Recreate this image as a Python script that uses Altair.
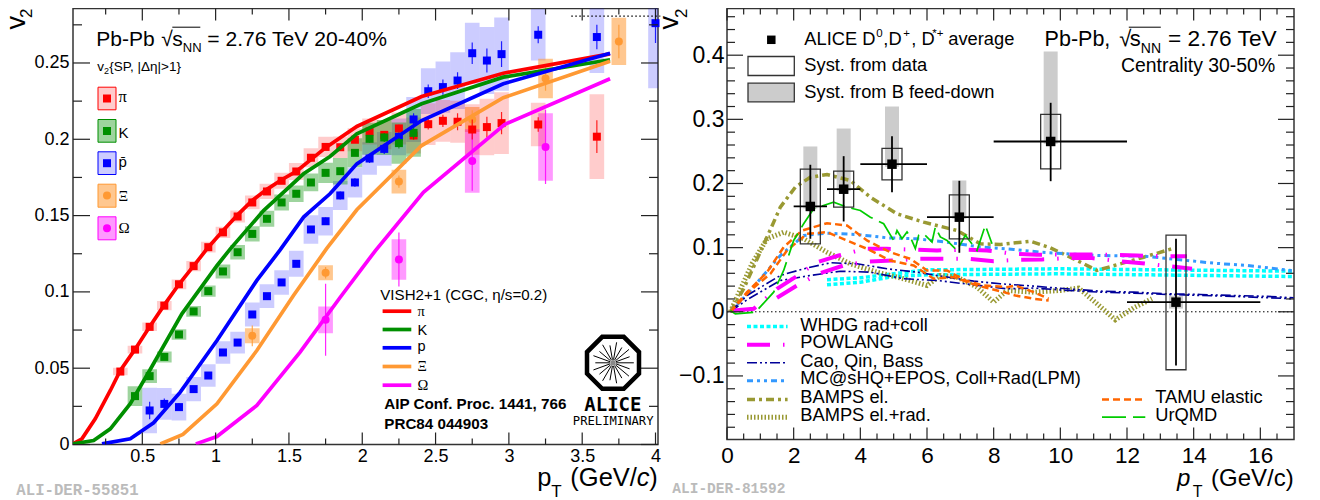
import math
import altair as alt
import pandas as pd

SANS = "Liberation Sans"
SERIF = "Liberation Serif"
MONO = "Liberation Mono"

# ---------------- left panel data: identified hadron v2 ----------------
pi_x = [0.35,0.45,0.55,0.65,0.75,0.85,0.95,1.05,1.15,1.25,1.35,1.45,1.55,1.65,1.75,1.85,1.95,2.05,2.15,2.25,2.35,2.45,2.55,2.65,2.75,2.85,2.95,3.2,3.6]
pi_y = [.0478,.0622,.0771,.091,.105,.1169,.1293,.139,.1494,.1586,.1658,.1728,.1789,.1879,.195,.1948,.1997,.2051,.2029,.2071,.2025,.2099,.2121,.2115,.2064,.208,.2106,.2097,.2017]
pi_sys = [.0025,.0025,.0028,.003,.0032,.0034,.0035,.0037,.004,.0045,.005,.0052,.0055,.0062,.0066,.007,.0075,.0085,.0095,.0105,.0118,.0137,.0137,.0137,.0165,.0185,.0202,.0142,.0278]
pi_err = [.0006,.0006,.0006,.0006,.0006,.0006,.0007,.0007,.0007,.0008,.0008,.0009,.001,.001,.0012,.0014,.0016,.0018,.002,.0025,.003,.0035,.004,.0055,.0065,.0068,.0073,.0048,.0107]

k_x = [0.45,0.55,0.65,0.75,0.85,0.95,1.05,1.15,1.25,1.35,1.45,1.55,1.65,1.75,1.85,1.95,2.05,2.15,2.25,2.35]
k_y = [.0317,.0448,.0574,.0721,.0872,.1005,.1134,.126,.138,.1479,.1586,.1643,.1717,.178,.1791,.1911,.2003,.2012,.1975,.2042]
k_sys = [.0065,.0045,.0036,.0035,.0035,.0037,.0046,.0048,.005,.0052,.0052,.0054,.0058,.0066,.0087,.0095,.0105,.0115,.0135,.0156]
k_err = [.0006,.0006,.0006,.0006,.0006,.0007,.0007,.0008,.0008,.0009,.001,.001,.0012,.0014,.0016,.002,.0025,.003,.0035,.004]

p_x = [0.55,0.65,0.75,0.85,0.95,1.05,1.15,1.25,1.35,1.45,1.55,1.65,1.75,1.85,1.95,2.05,2.15,2.25,2.35,2.45,2.55,2.65,2.75,2.85,2.95,3.2,3.6,4.0]
p_y = [.0223,.0266,.0245,.0363,.0452,.0603,.0668,.0852,.0972,.1062,.1184,.1409,.1463,.1632,.1717,.1874,.1937,.2016,.213,.2315,.2342,.2385,.2564,.2516,.2558,.2685,.267,.2761]
p_sys = [.0149,.0104,.0087,.0079,.0074,.0074,.0071,.0078,.0078,.008,.0085,.0093,.0093,.0095,.0098,.0106,.011,.012,.0147,.015,.0168,.0186,.02,.022,.024,.0168,.0236,.0426]
p_err = [.0057,.0035,.0025,.002,.002,.0015,.0015,.0015,.0015,.0018,.002,.0022,.0024,.0026,.0028,.003,.0033,.0036,.004,.0044,.005,.0055,.0071,.0079,.0085,.0055,.008,.013]

xi_x = [1.25,1.75,2.25,2.75,3.25,3.75]
xi_y = [.0712,.1125,.1723,.213,.2398,.2641]
xi_sys = [.0049,.0049,.0078,.0082,.0129,.0155]
xi_err = [.0068,.0038,.004,.006,.008,.011]

om_x = [1.75,2.25,2.75,3.25]
om_y = [.0817,.1212,.1857,.195]
om_sys = [.0088,.0133,.0208,.0221]
om_err = [.0236,.0177,.0195,.0243]

# hydrodynamic curves
vish_pi_x = [.027,.088,.179,.282,.35,.45,.55,.65,.75,.85,.95,1.05,1.15,1.25,1.35,1.45,1.55,1.75,1.963,2.405,2.962,3.69]
vish_pi_y = [.0004,.0037,.0168,.0354,.0485,.0623,.0771,.0915,.105,.117,.1293,.14,.1505,.1599,.1672,.1735,.1789,.1945,.2084,.228,.2433,.256]
vish_k_x = [.027,.168,.282,.418,.55,.77,1.01,1.10,1.327,1.6,1.78,1.963,2.405,2.962,3.69]
vish_k_y = [.0004,.0026,.0103,.0267,.0485,.0856,.1173,.1282,.1533,.1774,.1887,.2036,.2233,.2407,.2521]
vish_p_x = [.225,.418,.577,.759,1.009,1.281,1.44,1.60,1.78,1.963,2.405,2.962,3.69]
vish_p_y = [.0004,.0037,.0142,.0343,.0681,.1075,.1275,.149,.1643,.1839,.2123,.2364,.2564]
vish_xi_x = [.623,.777,1.009,1.281,1.531,1.758,1.963,2.405,2.962,3.69]
vish_xi_y = [.0004,.0066,.0267,.0616,.0976,.1285,.1538,.1959,.2272,.2512]
vish_om_x = [.865,1.009,1.281,1.576,1.85,2.09,2.417,2.97,3.69]
vish_om_y = [.0004,.0052,.0256,.0605,.0965,.1271,.1653,.2097,.2397]

left_species = [
    ("p", "#0000ff", "square", p_x, p_y, p_sys, p_err, 0.2),
    ("xi", "#ff9933", "circle", xi_x, xi_y, xi_sys, xi_err, 0.55),
    ("om", "#ff00ff", "circle", om_x, om_y, om_sys, om_err, 0.4),
    ("pi", "#ff0000", "square", pi_x, pi_y, pi_sys, pi_err, 0.2),
    ("k", "#008f00", "square", k_x, k_y, k_sys, k_err, 0.38),
]
left_curves = [
    ("#ff0000", vish_pi_x, vish_pi_y),
    ("#008f00", vish_k_x, vish_k_y),
    ("#0000ff", vish_p_x, vish_p_y),
    ("#ff9933", vish_xi_x, vish_xi_y),
    ("#ff00ff", vish_om_x, vish_om_y),
]

# ---------------- right panel data: D mesons ----------------
d_x = [2.5,3.5,4.95,6.97,9.71,13.47]
d_y = [.1642,.1911,.2301,.1475,.2655,.015]
d_xlo = [2,3,4,6,8,12]
d_xhi = [3,4,6,8,12,16]
d_stat_lo = [.1138,.1408,.1865,.092,.2036,-.0837]
d_stat_hi = [.2292,.2426,.2737,.2042,.3258,.1138]
d_sys_lo = [.106,.1631,.2057,.1138,.2229,-.0904]
d_sys_hi = [.2223,.2192,.2546,.1824,.3076,.1194]
d_b_lo = [.161,.188,.226,.145,.262,.005]
d_b_hi = [.2577,.2857,.32,.2047,.4058,.025]

whdg_hi_x = [3,4,5,6,10,17]
whdg_hi_y = [.05,.053,.0592,.0654,.067,.0633]
whdg_lo_x = [3,4,5,6,10,17]
whdg_lo_y = [.042,.0461,.055,.0577,.0592,.055]
pow_hi_x = [.2,.8,1.5,2.05,2.7,3.35,4.15,4.8,5.65,6.3,7.15,7.8,8.6,9.3,10.1,10.8,11.6,12.3,13.1,13.8]
pow_hi_y = [.002,.0046,.0358,.054,.0773,.0877,.0982,.0982,.0967,.0956,.0967,.0956,.0904,.0888,.0893,.0893,.0888,.0877,.0867,.0867]
pow_lo_x = [1.5,2.15,2.8,3.5,4.25,4.95,5.75,6.5,7.25,8.0,8.75,9.45,10.25,10.95,11.75,12.45,13.25,13.95]
pow_lo_y = [.0218,.0426,.0602,.0722,.0784,.08,.0825,.0825,.0825,.0789,.0811,.0816,.0837,.0837,.079,.0758,.0711,.067]
cao_hi_x = [.1,.6,1.6,2.3,3.1,3.9,4.8,5.7,6.6,7.4,8.2,9.2,10.2,11.2,12.2,13.2,14.2,15.2,16.2,17]
cao_hi_y = [0,.0254,.0566,.067,.0764,.0749,.067,.0618,.0541,.0478,.0436,.04,.0358,.0322,.0306,.028,.027,.0254,.024,.0218]
cao_lo_x = [.1,.6,1.6,2.5,3.4,4.3,5.3,6.3,7.3,8.4,9.2,10.2,11.2,12.2,13.2,14.2,15.2,17]
cao_lo_y = [0,.0187,.0488,.0566,.0633,.0617,.0515,.0488,.0426,.0358,.037,.0333,.0306,.029,.027,.0255,.024,.0203]
mc_x = [.1,.6,1.6,2.3,3.0,3.9,4.8,5.7,6.6,7.6,8.6,9.4,10.2,11.2,12.5,13.5,14.6,15.6,17]
mc_y = [0,.027,.0877,.119,.1225,.1205,.1153,.1137,.1085,.101,.0972,.093,.0903,.0877,.0867,.0816,.0758,.0722,.064]
bel_x = [.1,.5,1.2,1.6,2.05,2.5,3,3.7,4.3,5.1,5.9,6.9,7.6,8.2,9.1,9.7,10.5,11.1,11.7,12.5,13.35]
bel_y = [0,.0358,.1163,.1631,.1943,.2098,.214,.2047,.1786,.1528,.1397,.1267,.106,.1049,.11,.0998,.08,.0644,.0733,.0851,.0982]
brad_x = [.1,.75,1.2,1.7,2.3,3,3.7,4.5,5.3,6,6.4,6.9,7.5,8,8.4,9.2,10,10.55,11.1,11.65,12.2,12.75]
brad_y = [0,.0748,.1138,.1241,.1138,.0929,.0748,.0617,.0515,.041,.0566,.0541,.0385,.015,.0332,.0306,.0333,.037,.0125,-.0125,.0062,.0203]
tamu_hi_x = [.1,.6,1.2,1.7,2.25,3,3.6,4.2,4.9,5.5,6,6.6,7.15,7.7,8.4,8.65,9.2,9.65]
tamu_hi_y = [0,.0306,.0617,.1007,.1267,.1381,.1345,.1112,.0928,.0825,.0645,.0645,.0488,.041,.0384,.041,.0306,.0203]
tamu_lo_x = [.1,.7,1.3,1.8,2.4,3,3.6,4.2,4.9,5.6,6.2,6.8,7.5,8.3,8.65,9.2,9.65]
tamu_lo_y = [0,.0332,.0591,.0956,.1216,.1241,.1112,.0982,.0799,.0722,.0515,.0541,.041,.0306,.0254,.0203,.0177]
urq_x = [.1,.25,.85,1.4,1.7,2,2.3,2.6,3.2,3.6,4,4.3,4.7,5,5.1,5.25,5.4,5.5,5.65,5.75,5.9,6.15,6.25,6.4,6.6,6.9,7.15,7.5,7.75,7.95]
urq_y = [.002,-.0033,-.0007,.0306,.0644,.1112,.1372,.1606,.1709,.1631,.1579,.1475,.1372,.1112,.1267,.114,.1244,.1166,.0985,.1192,.1218,.1088,.1321,.1166,.1112,.0955,.1192,.0955,.1347,.106]

CYAN, MAG, NAVY, AZURE, OLIVE, ORANGE, LIME = "#00ffff", "#ff00ff", "#000099", "#3399ff", "#999933", "#ff6600", "#00cc00"
DASH_W = [4, 2.5]
DASH_P = [23, 13, 1.5, 13]
DASH_C = [10, 3, 2, 3, 2, 3]
DASH_M = [6, 4, 3, 4, 3, 4]
DASH_B = [8, 4, 3, 4]
DASH_R = [1.5, 2]
DASH_T = [7, 4]
DASH_U = [24, 7]
right_curves = [
    (whdg_hi_x, whdg_hi_y, CYAN, 3.5, DASH_W),
    (whdg_lo_x, whdg_lo_y, CYAN, 3.5, DASH_W),
    (brad_x, brad_y, OLIVE, 5, DASH_R),
    (bel_x, bel_y, OLIVE, 3.5, DASH_B),
    (mc_x, mc_y, AZURE, 3, DASH_M),
    (cao_hi_x, cao_hi_y, NAVY, 1.6, DASH_C),
    (cao_lo_x, cao_lo_y, NAVY, 1.6, DASH_C),
    (pow_hi_x, pow_hi_y, MAG, 4, DASH_P),
    (pow_lo_x, pow_lo_y, MAG, 4, DASH_P),
    (tamu_hi_x, tamu_hi_y, ORANGE, 2.5, DASH_T),
    (tamu_lo_x, tamu_lo_y, ORANGE, 2.5, DASH_T),
    (urq_x, urq_y, LIME, 1.7, DASH_U),
]

# tick lists
L_X_MAJOR = [0.5,1,1.5,2,2.5,3,3.5,4]
L_X_MINOR = [0.25,0.75,1.25,1.75,2.25,2.75,3.25,3.75]
L_Y_MAJOR = [0,0.05,0.1,0.15,0.2,0.25]
L_Y_MINOR = [0.025,0.075,0.125,0.175,0.225,0.275]
R_X_MAJOR = [0,2,4,6,8,10,12,14,16]
R_X_MINOR = [0.5,1,1.5,2.5,3,3.5,4.5,5,5.5,6.5,7,7.5,8.5,9,9.5,10.5,11,11.5,12.5,13,13.5,14.5,15,15.5,16.5]
R_Y_MAJOR = [-0.1,0,0.1,0.2,0.3,0.4]
R_Y_MINOR = [-0.18,-0.16,-0.14,-0.12,-0.08,-0.06,-0.04,-0.02,0.02,0.04,0.06,0.08,0.12,0.14,0.16,0.18,0.22,0.24,0.26,0.28,0.32,0.34,0.36,0.38,0.42,0.44,0.46]

# ---------------- geometry of the two frames, in page pixels ----------------
L_LEFT, L_TOP, L_W, L_H = 72.7, 8.0, 585.0, 436.0
R_LEFT, R_TOP, R_W, R_H = 726.7, 8.0, 567.0, 431.0
LX = alt.Scale(domain=[0.0273, 4.017], nice=False, zero=False)
LY = alt.Scale(domain=[0.0, 0.2857], nice=False, zero=False)
RX = alt.Scale(domain=[0.0, 17.01], nice=False, zero=False)
RY = alt.Scale(domain=[-0.1991, 0.4728], nice=False, zero=False)
ONE = pd.DataFrame({"a": [0]})


def guide(vals, size, pad):
    return alt.Axis(values=vals, format="~g", title=None, grid=False, ticks=False, domain=False,
                    labelFont=SANS, labelFontSize=size, labelColor="black", labelPadding=pad,
                    labelOverlap=False, labelFlush=False)


AX_LX = guide(L_X_MAJOR, 18, 3)
AX_LY = guide(L_Y_MAJOR, 18, 4)
AX_RX = guide(R_X_MAJOR, 22.5, 5)
AX_RY = guide(R_Y_MAJOR, 23, 3)


def LXE(f):
    return alt.X(f, scale=LX, axis=AX_LX)


def LYE(f):
    return alt.Y(f, scale=LY, axis=AX_LY)


def RXE(f):
    return alt.X(f, scale=RX, axis=AX_RX)


def RYE(f):
    return alt.Y(f, scale=RY, axis=AX_RY)


def mk_text(o, px, py, text, size, font=SANS, color="black", weight="normal", style="normal", angle=None, align="left"):
    kw = dict(text=text, fontSize=size, font=font, color=color, fontWeight=weight, fontStyle=style,
              align=align, baseline="alphabetic")
    if angle is not None:
        kw["angle"] = angle
    return alt.Chart(ONE).mark_text(**kw).encode(x=alt.value(px - o[0]), y=alt.value(py - o[1]))


def mk_box(o, x0, x1, y0, y1, fill, stroke=None, sw=1.3, opacity=1.0):
    kw = dict(color=fill, opacity=opacity)
    m = alt.Chart(ONE).mark_rect(**kw, **({"stroke": stroke, "strokeWidth": sw} if stroke else {}))
    return m.encode(x=alt.value(x0 - o[0]), x2=alt.value(x1 - o[0]), y=alt.value(y0 - o[1]), y2=alt.value(y1 - o[1]))


def mk_hline(o, x0, x1, y, color, width, dash=None):
    kw = dict(color=color, strokeWidth=width)
    if dash:
        kw["strokeDash"] = dash
    return alt.Chart(ONE).mark_rule(**kw).encode(x=alt.value(x0 - o[0]), x2=alt.value(x1 - o[0]), y=alt.value(y - o[1]))


def mk_sym(o, px, py, shape, size, color):
    return alt.Chart(ONE).mark_point(shape=shape, size=size, filled=True, color=color, opacity=1).encode(
        x=alt.value(px - o[0]), y=alt.value(py - o[1]))


def frame_ticks(W, H, xe, ye, xmaj, xmin, ymaj, ymin, xl, xs, yl, ys):
    out = []
    for vals, n in ((xmaj, xl), (xmin, xs)):
        df = pd.DataFrame({"v": vals})
        out.append(alt.Chart(df).mark_rule(color="#222", strokeWidth=1.2).encode(x=xe("v:Q"), y=alt.value(0), y2=alt.value(n)))
        out.append(alt.Chart(df).mark_rule(color="#222", strokeWidth=1.2).encode(x=xe("v:Q"), y=alt.value(H - n), y2=alt.value(H)))
    for vals, n in ((ymaj, yl), (ymin, ys)):
        df = pd.DataFrame({"v": vals})
        out.append(alt.Chart(df).mark_rule(color="#222", strokeWidth=1.2).encode(y=ye("v:Q"), x=alt.value(0), x2=alt.value(n)))
        out.append(alt.Chart(df).mark_rule(color="#222", strokeWidth=1.2).encode(y=ye("v:Q"), x=alt.value(W - n), x2=alt.value(W)))
    return out


# ---------------- left panel ----------------
O = (L_LEFT, L_TOP)
left = []
for name, col, shp, xs, ys, sy_, er, op in left_species:
    df = pd.DataFrame({"x0": [v - 0.05 for v in xs], "x1": [v + 0.05 for v in xs],
                       "y0": [a - b for a, b in zip(ys, sy_)], "y1": [a + b for a, b in zip(ys, sy_)]})
    left.append(alt.Chart(df).mark_rect(color=col, opacity=op, clip=True).encode(
        x=LXE("x0:Q"), x2="x1:Q", y=LYE("y0:Q"), y2="y1:Q"))
for name, col, shp, xs, ys, sy_, er, op in left_species:
    df = pd.DataFrame({"x": xs, "y": ys,
                       "e0": [a - b for a, b in zip(ys, er)], "e1": [a + b for a, b in zip(ys, er)]})
    left.append(alt.Chart(df).mark_rule(color=col, strokeWidth=1.2, clip=True, opacity=0.85).encode(
        x=LXE("x:Q"), y=LYE("e0:Q"), y2="e1:Q"))
    left.append(alt.Chart(df).mark_point(shape=shp, filled=True, color=col, opacity=1, size=64).encode(
        x=LXE("x:Q"), y=LYE("y:Q")))
for col, xs, ys in left_curves:
    df = pd.DataFrame({"x": xs, "y": ys})
    left.append(alt.Chart(df).mark_line(color=col, strokeWidth=3.7, clip=True).encode(
        x=alt.X("x:Q", scale=LX, axis=AX_LX, sort=None), y=LYE("y:Q")))
left.extend(frame_ticks(L_W, L_H, LXE, LYE, L_X_MAJOR, L_X_MINOR, L_Y_MAJOR, L_Y_MINOR, 12, 6, 17, 9))
left.append(mk_hline(O, 571, 660, 15.7, "black", 1.2, [1.5, 2.5]))

left += [
    mk_text(O, 96, 45, "Pb-Pb", 21),
    mk_text(O, 161, 45, "√", 21),
    mk_text(O, 172, 45, "s", 21),
    mk_text(O, 182.5, 51.5, "NN", 13),
    mk_hline(O, 172, 200, 26.7, "black", 1),
    mk_text(O, 207, 45, "= 2.76 TeV 20-40%", 21.1),
    mk_text(O, 97, 70, "v", 13.5),
    mk_text(O, 103.8, 73, "2", 9),
    mk_text(O, 109, 70, "{SP, |Δη|>1}", 13.5),
]
leg_rows = [
    ("π", "#ff0000", "square", 86.7, 109.3, 98, 0.2, 101.7, SERIF, 16.5),
    ("K", "#008f00", "square", 119, 141.7, 130.5, 0.38, 137, SANS, 15),
    ("p̄", "#0000ff", "square", 151.3, 174, 162.7, 0.2, 166.7, SANS, 15),
    ("Ξ", "#ff9933", "circle", 183.7, 206.7, 195, 0.55, 200, SERIF, 15),
    ("Ω", "#ff00ff", "circle", 216.3, 239.3, 227.7, 0.4, 232.3, SERIF, 15),
]
for lab, col, shp, y0, y1, yc, op, yb, fnt, fsz in leg_rows:
    left += [
        mk_box(O, 97.7, 115.7, y0, y1, col, None, opacity=op),
        mk_hline(O, 97.7, 115.7, y0, col, 1),
        mk_hline(O, 97.7, 115.7, y1, col, 1),
        mk_box(O, 97.2, 98.2, y0, y1, col),
        mk_box(O, 115.2, 116.2, y0, y1, col),
        mk_sym(O, 106.7, yc, shp, 64, col),
        mk_text(O, 118.3, yb, lab, fsz, font=fnt),
    ]
left.append(mk_text(O, 380, 299, "VISH2+1 (CGC, η/s=0.2)", 15.1))
for lab, col, yl, yb, fnt in [("π", "#ff0000", 310.7, 315.7, SERIF), ("K", "#008f00", 329, 334, SANS),
                              ("p", "#0000ff", 347.3, 350.7, SANS), ("Ξ", "#ff9933", 366, 370, SERIF),
                              ("Ω", "#ff00ff", 384.7, 389.3, SERIF)]:
    left.append(mk_hline(O, 382.3, 411, yl, col, 3.7))
    left.append(mk_text(O, 417.3, yb, lab, 14.5, font=fnt))
left += [
    mk_text(O, 384, 408, "AIP Conf. Proc. 1441, 766", 15.2, weight="bold"),
    mk_text(O, 384, 428, "PRC84 044903", 15.2, weight="bold"),
]
ring = "M" + " L".join(f"{1.082*math.cos(math.radians(22.5+45*i)):.3f},{1.082*math.sin(math.radians(22.5+45*i)):.3f}" for i in range(8)) + " Z"
spokes = " ".join(
    f"M{0.12*math.cos(a):.3f},{0.12*math.sin(a):.3f} L{r*math.cos(a):.3f},{r*math.sin(a):.3f}"
    for a, r in ((math.radians(20 * i), 0.8 if i % 2 == 0 else 0.68) for i in range(18)))
left += [
    alt.Chart(ONE).mark_point(shape=ring, size=2704, filled=False, color="black", strokeWidth=4.5, opacity=1).encode(
        x=alt.value(612.7 - O[0]), y=alt.value(362.3 - O[1])),
    alt.Chart(ONE).mark_point(shape=spokes, size=2704, filled=False, color="black", strokeWidth=1, opacity=1).encode(
        x=alt.value(612.7 - O[0]), y=alt.value(362.3 - O[1])),
    mk_sym(O, 612.7, 362.3, "circle", 30, "#888888"),
    mk_text(O, 584, 410, "ALICE", 19, font="DejaVu Sans Mono", weight="bold"),
    mk_text(O, 572.5, 424, "PRELIMINARY", 12.2, font="DejaVu Sans Mono"),
]
left += [
    mk_text(O, 25, 29, "v", 27, angle=270),
    mk_text(O, 32, 17.5, "2", 17, angle=270),
    mk_text(O, 537, 485, "p", 25.5),
    mk_text(O, 551, 496, "T", 17),
    mk_text(O, 570, 485, "(GeV/", 25.5),
    mk_text(O, 636.5, 485, "c", 25.5, style="italic"),
    mk_text(O, 649, 485, ")", 25.5),
    mk_text(O, 16, 494, "ALI-DER-55851", 15.7, font=MONO, color="#bbbbbb", weight="bold"),
]
left_chart = alt.layer(*left).properties(width=L_W, height=L_H)

# ---------------- right panel ----------------
O = (R_LEFT, R_TOP)
right = []
df_d = pd.DataFrame({"x": d_x, "y": d_y, "xlo": d_xlo, "xhi": d_xhi, "slo": d_stat_lo, "shi": d_stat_hi,
                     "ylo": d_sys_lo, "yhi": d_sys_hi, "blo": d_b_lo, "bhi": d_b_hi,
                     "bx0": [v - 0.21 for v in d_x], "bx1": [v + 0.21 for v in d_x],
                     "sx0": [v - 0.3 for v in d_x], "sx1": [v + 0.3 for v in d_x]})
right.append(alt.Chart(df_d).mark_rect(color="#cccccc").encode(
    x=RXE("bx0:Q"), x2="bx1:Q", y=RYE("blo:Q"), y2="bhi:Q"))
right.append(alt.Chart(pd.DataFrame({"x": [0, 17], "y": [0, 0]})).mark_line(color="black", strokeWidth=1, strokeDash=[1.5, 2.5]).encode(
    x=RXE("x:Q"), y=RYE("y:Q")))
for xs, ys, col, w, dash in right_curves:
    df = pd.DataFrame({"x": xs, "y": ys})
    right.append(alt.Chart(df).mark_line(color=col, strokeWidth=w, strokeDash=dash, clip=True).encode(
        x=alt.X("x:Q", scale=RX, axis=AX_RX, sort=None), y=RYE("y:Q")))
right.append(alt.Chart(df_d).mark_rect(filled=False, fillOpacity=0, stroke="#333333", strokeWidth=1.3).encode(
    x=RXE("sx0:Q"), x2="sx1:Q", y=RYE("ylo:Q"), y2="yhi:Q"))
right.append(alt.Chart(df_d).mark_rule(color="black", strokeWidth=1.8).encode(
    x=RXE("x:Q"), y=RYE("slo:Q"), y2="shi:Q"))
right.append(alt.Chart(df_d).mark_rule(color="black", strokeWidth=1.8).encode(
    x=RXE("xlo:Q"), x2="xhi:Q", y=RYE("y:Q")))
right.append(alt.Chart(df_d).mark_point(shape="square", filled=True, color="black", opacity=1, size=90).encode(
    x=RXE("x:Q"), y=RYE("y:Q")))
right.extend(frame_ticks(R_W, R_H, RXE, RYE, R_X_MAJOR, R_X_MINOR, R_Y_MAJOR, R_Y_MINOR, 12, 6, 16, 8))

FS = 18.3
right += [
    mk_sym(O, 771, 39.3, "square", 72, "black"),
    mk_text(O, 804, 44, "ALICE D", FS),
    mk_text(O, 876, 36, "0", 11.5),
    mk_text(O, 883, 44, ",D", FS),
    mk_text(O, 903, 36, "+", 11.5),
    mk_text(O, 911, 44, ", D", FS),
    mk_text(O, 932, 36, "*+", 11.5),
    mk_text(O, 948, 44, "average", FS),
    mk_box(O, 747.7, 794, 56, 75, "white", "#333333", 1.3),
    mk_text(O, 804, 70.7, "Syst. from data", FS),
    mk_box(O, 747.7, 794, 82.7, 101.3, "#cccccc", "#333333", 1.3),
    mk_text(O, 804, 97.3, "Syst. from B feed-down", FS),
    mk_text(O, 1044.3, 45, "Pb-Pb,", 21.5),
    mk_text(O, 1119, 45, "√", 22),
    mk_text(O, 1129.5, 45, "s", 22),
    mk_text(O, 1140.5, 52.5, "NN", 14),
    mk_hline(O, 1128.5, 1160.5, 26.7, "black", 1),
    mk_text(O, 1167.7, 45, "= 2.76 TeV", 22.7),
    mk_text(O, 1120.7, 71, "Centrality 30-50%", 19.4),
]
for lab, col, w, dash, yl, yb in [
    ("WHDG rad+coll", CYAN, 3.5, DASH_W, 326, 330),
    ("POWLANG", MAG, 4, DASH_P, 344.3, 347.7),
    ("Cao, Qin, Bass", NAVY, 1.6, DASH_C, 362.3, 366.7),
    ("MC@sHQ+EPOS, Coll+Rad(LPM)", AZURE, 3, DASH_M, 380.3, 383.3),
    ("BAMPS el.", OLIVE, 3.5, DASH_B, 399, 402.7),
    ("BAMPS el.+rad.", OLIVE, 5, DASH_R, 416.7, 420.7),
]:
    right.append(mk_hline(O, 746.7, 787.3, yl, col, w, dash))
    right.append(mk_text(O, 800, yb, lab, FS))
for lab, col, w, dash, yl, yb in [("TAMU elastic", ORANGE, 2.5, DASH_T, 399, 402.7), ("UrQMD", LIME, 1.7, DASH_U, 416.7, 420.7)]:
    right.append(mk_hline(O, 1101.7, 1145, yl, col, w, dash))
    right.append(mk_text(O, 1155, yb, lab, FS))
right += [
    mk_text(O, 678, 29, "v", 27, angle=270),
    mk_text(O, 687, 17.5, "2", 17, angle=270),
    mk_text(O, 1176.7, 485, "p", 24, style="italic"),
    mk_text(O, 1192.5, 496, "T", 16),
    mk_text(O, 1210.7, 485, "(GeV/c)", 24),
    mk_text(O, 672, 492.7, "ALI-DER-81592", 14.5, font=MONO, color="#bbbbbb", weight="bold"),
]
right_chart = alt.layer(*right).properties(width=R_W, height=R_H)

chart = alt.hconcat(left_chart, right_chart, spacing=69, bounds="flush").properties(
    padding={"left": -6, "top": -1.5, "right": 0, "bottom": 0}
).configure_view(stroke="#333333", strokeWidth=1.5)

chart.save("out.html", embed_options={"renderer": "svg", "actions": False})
